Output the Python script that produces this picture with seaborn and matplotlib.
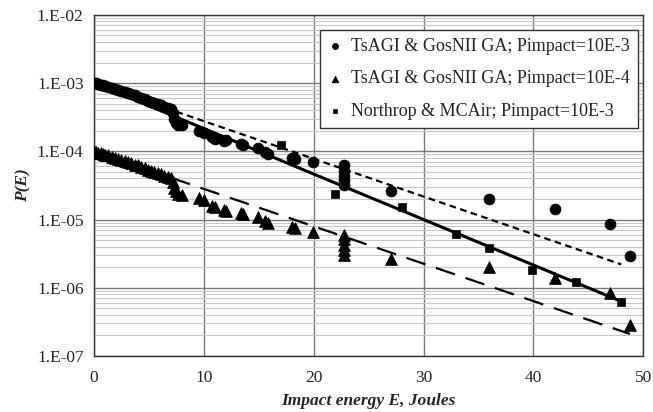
import numpy as np
import pandas as pd
from matplotlib import pyplot as plt
from matplotlib.ticker import FuncFormatter, LogLocator, NullFormatter
import seaborn as sns

# Data
tsagi3_e = [0.0, 0.2, 0.4, 0.6, 0.8, 1.0, 1.3, 1.6, 1.9, 2.2, 2.5, 2.8, 3.1, 3.4, 3.7, 4.0,
            4.3, 4.6, 4.9, 5.2, 5.5, 5.8, 6.1, 6.4, 6.7, 7.0, 7.2, 7.3, 7.5, 7.6, 8.0, 9.6,
            10.0, 10.7, 11.0, 11.8, 12.0, 13.4, 13.6, 14.9, 15.6, 15.8, 18.0, 18.3, 19.9,
            22.8, 22.8, 22.8, 22.8, 22.8, 27.0, 36.0, 42.0, 47.0, 48.8]
tsagi3_p = [1.0e-3, 9.9e-4, 9.7e-4, 9.5e-4, 9.3e-4, 9.1e-4, 8.8e-4, 8.5e-4, 8.2e-4, 7.9e-4,
            7.6e-4, 7.3e-4, 7.1e-4, 6.8e-4, 6.6e-4, 6.3e-4, 6.0e-4, 5.8e-4, 5.5e-4, 5.3e-4,
            5.1e-4, 4.9e-4, 4.7e-4, 4.5e-4, 4.3e-4, 4.1e-4, 3.6e-4, 3.0e-4, 2.6e-4, 2.4e-4,
            2.4e-4, 2.0e-4, 1.85e-4, 1.6e-4, 1.5e-4, 1.4e-4, 1.45e-4, 1.3e-4, 1.25e-4, 1.1e-4,
            9.6e-5, 9.2e-5, 7.9e-5, 7.6e-5, 6.9e-5,
            6.2e-5, 5.2e-5, 4.4e-5, 3.8e-5, 3.2e-5, 2.6e-5, 2.0e-5, 1.45e-5, 8.7e-6, 2.9e-6]

tsagi4_e = [0.0, 0.2, 0.4, 0.6, 0.8, 1.0, 1.3, 1.6, 1.9, 2.2, 2.5, 2.8, 3.1, 3.4, 3.7, 4.0,
            4.3, 4.6, 4.9, 5.2, 5.5, 5.8, 6.1, 6.4, 6.7, 7.0, 7.2, 7.3, 7.5, 7.6, 8.0, 9.6,
            10.0, 10.7, 11.0, 11.8, 12.0, 13.4, 13.6, 14.9, 15.6, 15.8, 18.0, 18.3, 19.9,
            22.8, 22.8, 22.8, 22.8, 22.8, 27.0, 36.0, 42.0, 47.0, 48.8]
tsagi4_p = [1.0e-4, 9.8e-5, 9.5e-5, 9.3e-5, 9.1e-5, 8.9e-5, 8.7e-5, 8.3e-5, 8.0e-5, 7.8e-5,
            7.4e-5, 7.2e-5, 6.9e-5, 6.7e-5, 6.4e-5, 6.2e-5, 5.9e-5, 5.7e-5, 5.4e-5, 5.2e-5,
            5.0e-5, 4.8e-5, 4.6e-5, 4.4e-5, 4.2e-5, 4.0e-5, 3.5e-5, 2.9e-5, 2.6e-5, 2.4e-5,
            2.3e-5, 2.1e-5, 1.9e-5, 1.6e-5, 1.5e-5, 1.4e-5, 1.35e-5, 1.25e-5, 1.2e-5, 1.1e-5,
            9.4e-6, 9.0e-6, 7.8e-6, 7.5e-6, 6.6e-6,
            6.0e-6, 5.1e-6, 4.3e-6, 3.6e-6, 3.0e-6, 2.6e-6, 2.0e-6, 1.4e-6, 8.3e-7, 2.8e-7]

northrop_e = [17.0, 21.9, 28.0, 33.0, 36.0, 39.9, 43.9, 48.0]
northrop_p = [1.25e-4, 2.4e-5, 1.5e-5, 6.2e-6, 3.8e-6, 1.85e-6, 1.2e-6, 6.2e-7]

# trend lines (end points)
solid_e = [0, 48]
solid_p = [1.0e-3, 6.3e-7]
short_dash_e = [7.5, 48]
short_dash_p = [3.8e-4, 2.2e-6]
long_dash_e = [7.0, 48.8]
long_dash_p = [4.1e-5, 2.1e-7]

labels = ['TsAGI & GosNII GA; Pimpact=10E-3',
          'TsAGI & GosNII GA; Pimpact=10E-4',
          'Northrop & MCAir; Pimpact=10E-3']

if __name__ == '__main__':
    sns.set_style('white')
    plt.rcParams['font.family'] = ['Liberation Serif', 'DejaVu Serif']

    fig, ax = plt.subplots(figsize=(6.53, 4.12), dpi=100)
    fig.subplots_adjust(left=0.144, right=0.985, top=0.964, bottom=0.136)

    # trend lines
    sns.lineplot(x=solid_e, y=solid_p, ax=ax, color='black', lw=2.2, zorder=3)
    l2 = sns.lineplot(x=short_dash_e, y=short_dash_p, ax=ax, color='black', lw=1.6, zorder=3)
    l2.lines[-1].set_dashes([3, 2])
    l3 = sns.lineplot(x=long_dash_e, y=long_dash_p, ax=ax, color='black', lw=1.6, zorder=3)
    l3.lines[-1].set_dashes([9, 5])

    # points
    sns.scatterplot(x=tsagi3_e, y=tsagi3_p, ax=ax, marker='o', color='black', s=60,
                    edgecolor='black', label=labels[0], zorder=4)
    sns.scatterplot(x=tsagi4_e, y=tsagi4_p, ax=ax, marker='^', color='black', s=70,
                    edgecolor='black', label=labels[1], zorder=4)
    sns.scatterplot(x=northrop_e, y=northrop_p, ax=ax, marker='s', color='black', s=38,
                    edgecolor='black', label=labels[2], zorder=4)

    ax.set_yscale('log')
    ax.set_xlim(0, 50)
    ax.set_ylim(1e-7, 1e-2)
    ax.set_xticks([0, 10, 20, 30, 40, 50])
    ax.yaxis.set_major_locator(LogLocator(base=10, numticks=10))
    ax.yaxis.set_minor_locator(LogLocator(base=10, subs=np.arange(2, 10), numticks=20))
    ax.yaxis.set_minor_formatter(NullFormatter())
    ax.yaxis.set_major_formatter(FuncFormatter(lambda v, p: '1.E-%02d' % round(-np.log10(v))))

    ax.grid(True, which='major', axis='both', color='#7a7a7a', lw=1.0)
    ax.grid(True, which='minor', axis='y', color='#c8c8c8', lw=0.8)
    ax.set_axisbelow(True)
    for s in ax.spines.values():
        s.set_color('#333333')
        s.set_linewidth(1.0)

    ax.tick_params(axis='both', which='major', labelsize=12.5, length=4, color='#333333')
    ax.tick_params(axis='y', which='minor', length=0)
    ax.tick_params(axis='x', pad=6)
    ax.set_xlabel('Impact energy E, Joules', fontsize=12.5, fontweight='bold', style='italic', labelpad=5)
    ax.set_ylabel('P(E)', fontsize=12.5, fontweight='bold', style='italic', labelpad=4)

    leg = ax.legend(loc='upper right', bbox_to_anchor=(0.991, 0.956), fontsize=13,
                    frameon=True, fancybox=False, edgecolor='#333333', framealpha=1,
                    handlelength=0.8, handletextpad=0.5, markerscale=0.55, borderpad=0.45,
                    labelspacing=0.85, borderaxespad=0)
    leg.get_frame().set_linewidth(1.0)

    plt.savefig('out.png', dpi=100)
